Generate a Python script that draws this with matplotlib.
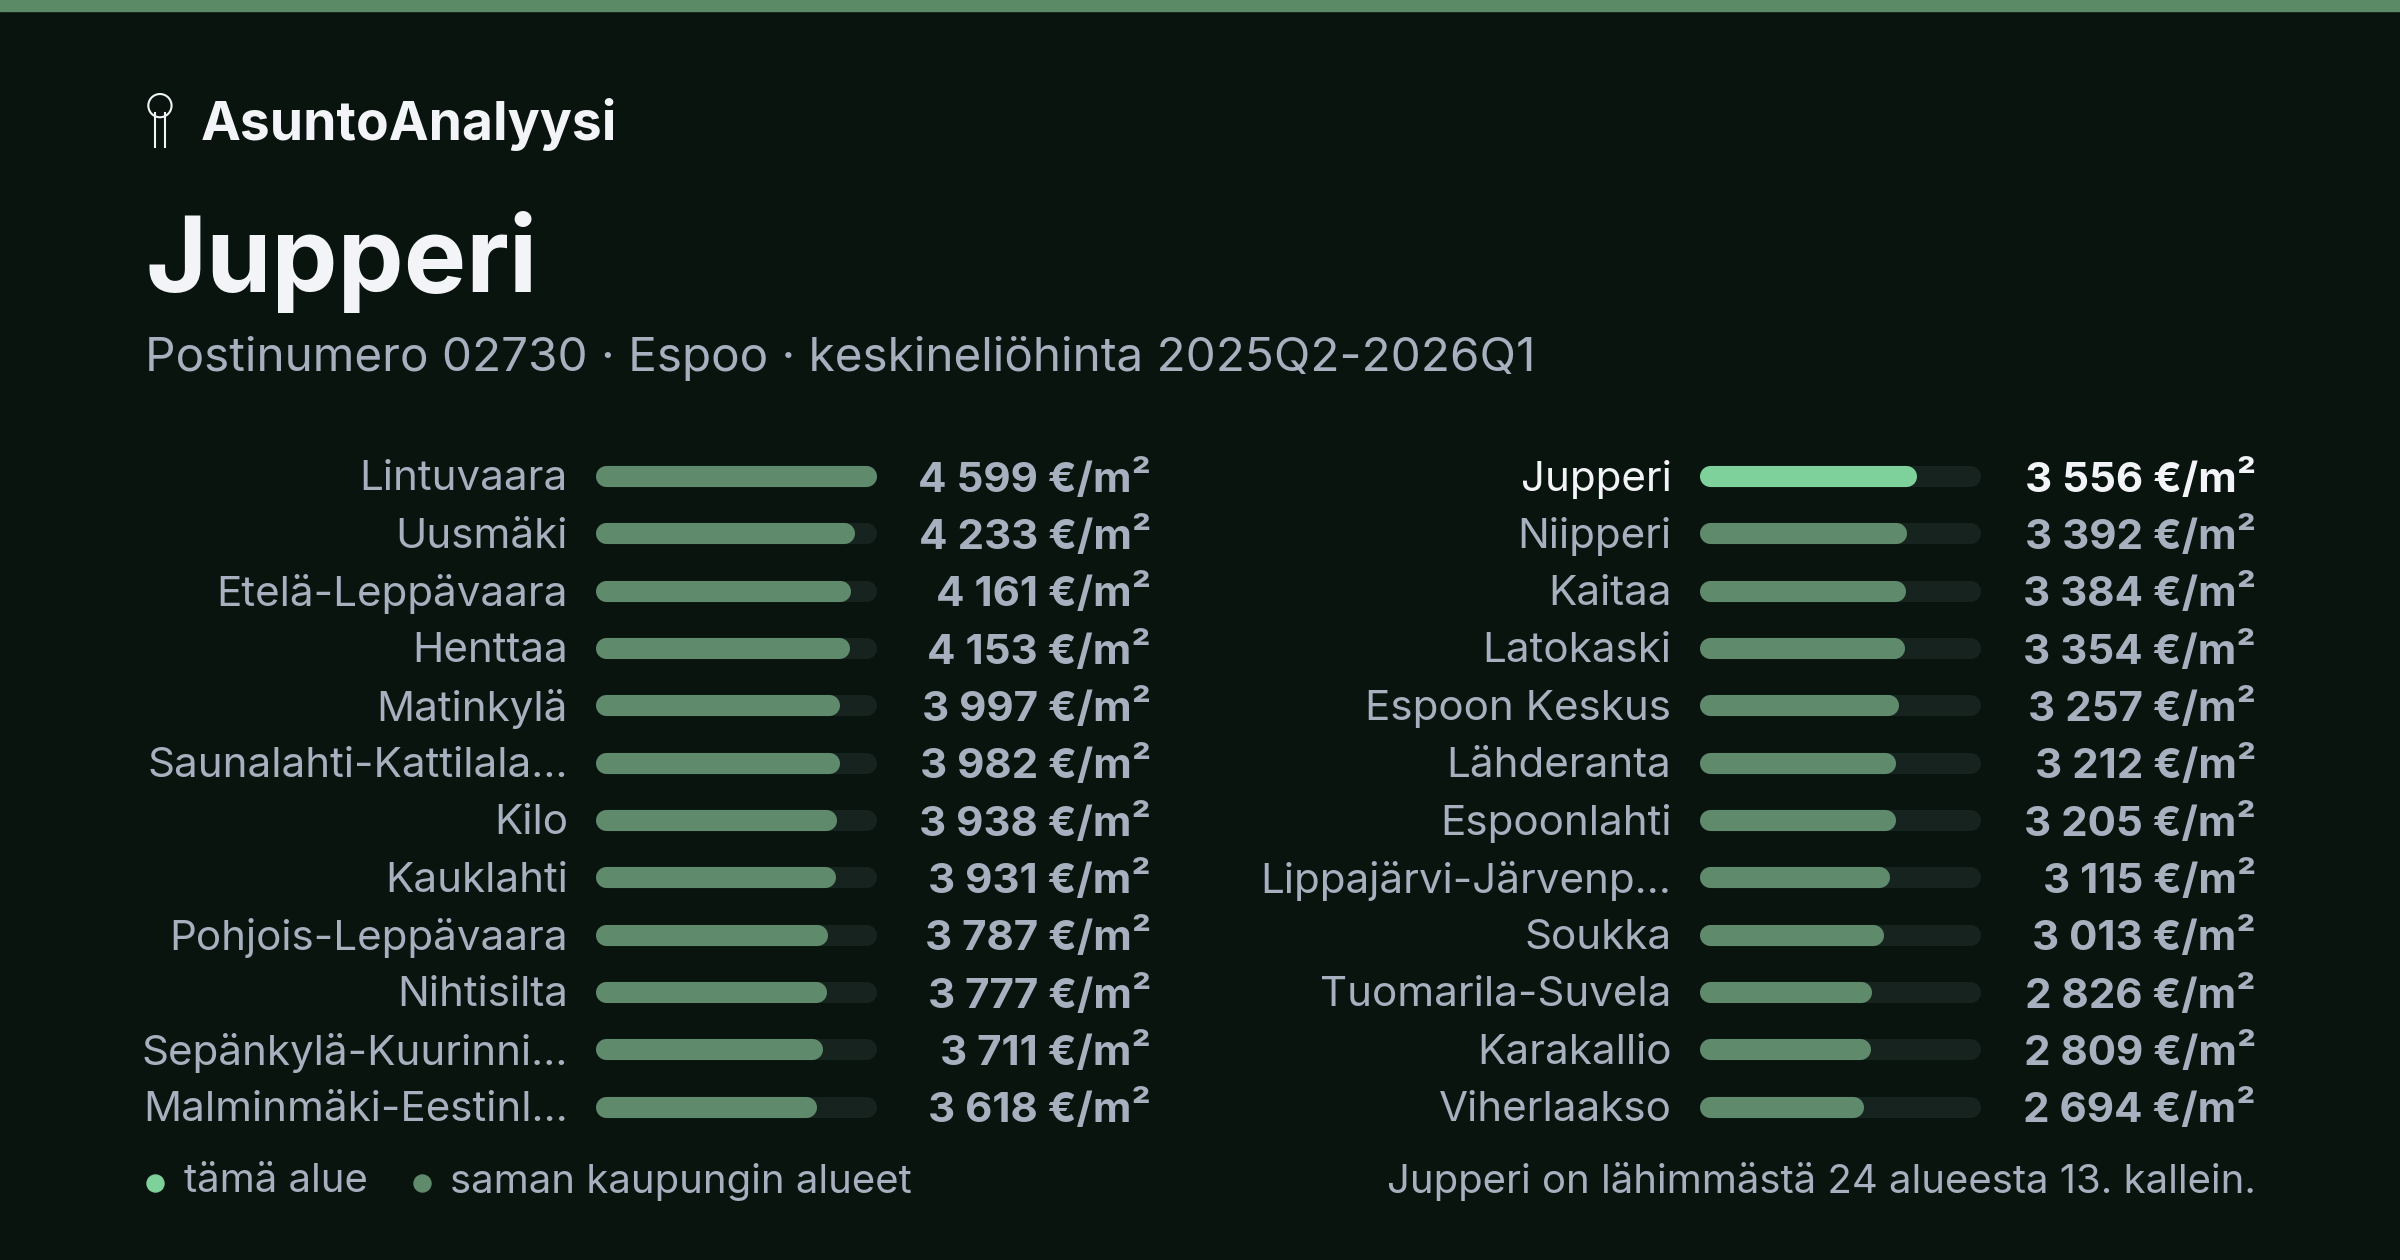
import matplotlib
matplotlib.use("Agg")
import matplotlib.pyplot as plt

left_names = ["Lintuvaara","Uusmäki","Etelä-Leppävaara","Henttaa","Matinkylä","Saunalahti-Kattilala…",
              "Kilo","Kauklahti","Pohjois-Leppävaara","Nihtisilta","Sepänkylä-Kuurinni…","Malminmäki-Eestinl…"]
left_vals = [4599,4233,4161,4153,3997,3982,3938,3931,3787,3777,3711,3618]
right_names = ["Jupperi","Niipperi","Kaitaa","Latokaski","Espoon Keskus","Lähderanta","Espoonlahti",
               "Lippajärvi-Järvenp…","Soukka","Tuomarila-Suvela","Karakallio","Viherlaakso"]
right_vals = [3556,3392,3384,3354,3257,3212,3205,3115,3013,2826,2809,2694]
highlight = "Jupperi"

BG = "#09140f"; TXT = "#a7b0bf"; WHITE = "#f2f4f8"
BAR = "#5f8a6c"; TRACK = "#17231e"; HL = "#7fd19c"
plt.rcParams['font.family'] = ['Inter', 'DejaVu Sans']
S = 1.48

fig = plt.figure(figsize=(24, 12.6), dpi=100, facecolor=BG)
ax = fig.add_axes([0, 0, 1, 1]); ax.set_xlim(0, 1568); ax.set_ylim(823, 0); ax.axis('off')
ax.set_facecolor(BG)
ax.axhspan(0, 7, color="#5b8a66")

ax.text(131, 81, "AsuntoAnalyysi", color=WHITE, fontsize=26 * S, fontweight='bold', va='center')
# simple key icon
ax.plot([101, 101], [74, 96], color=WHITE, lw=1.5)
ax.plot([108, 108], [74, 96], color=WHITE, lw=1.5)
ax.scatter([104.5], [69], s=280, facecolor='none', edgecolor=WHITE, lw=1.5)
ax.text(95, 171, "Jupperi", color=WHITE, fontsize=51 * S, fontweight='bold', va='center')
ax.text(95, 234, "Postinumero 02730 · Espoo · keskineliöhinta 2025Q2-2026Q1", color=TXT, fontsize=23.2 * S, va='center')

vmax = max(left_vals)
bw = 184; lw = 15.2; cap = 7
def panel(names, vals, lab_x, bar_x, val_x):
    for i, (n, v) in enumerate(zip(names, vals)):
        y = 311 + i * 37.45
        hl = n == highlight
        ax.plot([bar_x + cap, bar_x + bw - cap], [y, y], color=TRACK, lw=lw, solid_capstyle='round')
        ax.plot([bar_x + cap, bar_x + bw * v / vmax - cap], [y, y], color=HL if hl else BAR, lw=lw, solid_capstyle='round')
        ax.text(lab_x, y + 2, n, color=WHITE if hl else TXT, fontsize=20.5 * S, ha='right', va='center')
        ax.text(val_x, y + 2, f"{v:,}".replace(",", " ") + " €/m²", color=WHITE if hl else TXT,
                fontsize=20.5 * S, fontweight='bold', ha='right', va='center')

panel(left_names, left_vals, 371, 389, 752)
panel(right_names, right_vals, 1092, 1110, 1474)

ax.scatter([101], [773], s=150, color=HL)
ax.text(120, 772, "tämä alue", color=TXT, fontsize=19.5 * S, va='center')
ax.scatter([276], [773], s=150, color=BAR)
ax.text(294, 772, "saman kaupungin alueet", color=TXT, fontsize=19.5 * S, va='center')
ax.text(1474, 772, "Jupperi on lähimmästä 24 alueesta 13. kallein.", color=TXT, fontsize=19.5 * S, ha='right', va='center')

fig.savefig("out.png", dpi=100, facecolor=BG)
